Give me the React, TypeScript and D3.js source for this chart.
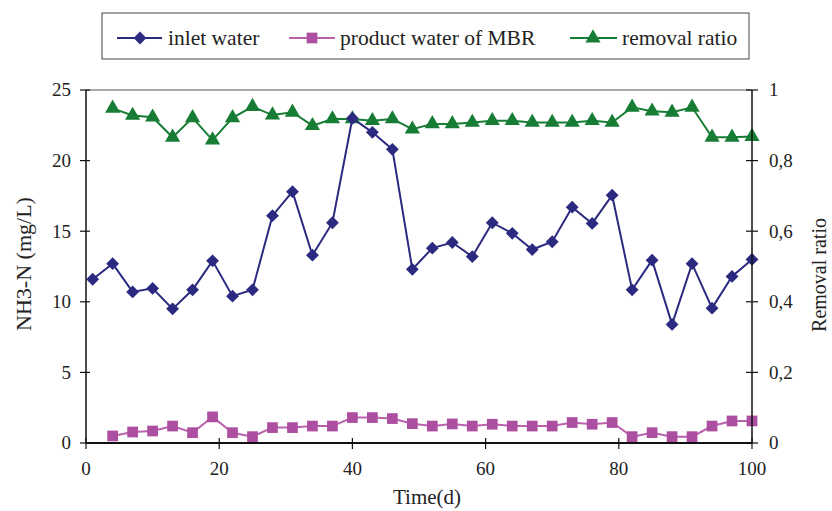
import React from "react";
import * as d3 from "d3";

// sampling days (every 3 days)
const inletDays = [1, 4, 7, 10, 13, 16, 19, 22, 25, 28, 31, 34, 37, 40, 43, 46, 49, 52, 55, 58, 61, 64, 67, 70, 73, 76, 79, 82, 85, 88, 91, 94, 97, 100];
const outDays = inletDays.slice(1);

const inletWater = [11.6, 12.7, 10.7, 10.95, 9.5, 10.85, 12.9, 10.4, 10.85, 16.1, 17.8, 13.3, 15.6, 23.0, 22.0, 20.8, 12.3, 13.8, 14.2, 13.2, 15.6, 14.85, 13.7, 14.25, 16.7, 15.55, 17.55, 10.85, 12.95, 8.4, 12.7, 9.55, 11.8, 13.0];
const productWater = [0.5, 0.78, 0.85, 1.2, 0.73, 1.85, 0.73, 0.45, 1.09, 1.09, 1.2, 1.2, 1.8, 1.8, 1.73, 1.37, 1.2, 1.35, 1.2, 1.33, 1.2, 1.2, 1.2, 1.45, 1.33, 1.45, 0.45, 0.73, 0.45, 0.45, 1.2, 1.56, 1.56];
const removalRatio = [0.948, 0.928, 0.923, 0.866, 0.921, 0.858, 0.921, 0.953, 0.929, 0.937, 0.899, 0.918, 0.918, 0.913, 0.918, 0.889, 0.904, 0.904, 0.908, 0.913, 0.913, 0.908, 0.908, 0.908, 0.913, 0.908, 0.951, 0.94, 0.937, 0.951, 0.866, 0.866, 0.868];

const xTicks = [0, 20, 40, 60, 80, 100];
const yTicks = [0, 5, 10, 15, 20, 25];
const y2Ticks = [0, 0.2, 0.4, 0.6, 0.8, 1];

const C_INLET = "#2b2a80";
const C_PROD = "#ad4fa0";
const C_PROD_LINE = "#bb62ae";
const C_REM = "#177d35";
const FONT = "'Liberation Serif', 'Times New Roman', serif";

const W = 832;
const H = 511;
const L = 86, R = 752, T = 90, B = 443;

export default function App() {
  const x = d3.scaleLinear().domain([0, 100]).range([L, R]);
  const y = d3.scaleLinear().domain([0, 25]).range([B, T]);
  const y2 = d3.scaleLinear().domain([0, 1]).range([B, T]);

  const inletPts = inletDays.map((d, i) => [x(d), y(inletWater[i])] as [number, number]);
  const prodPts = outDays.map((d, i) => [x(d), y(productWater[i])] as [number, number]);
  const remPts = outDays.map((d, i) => [x(d), y2(removalRatio[i])] as [number, number]);
  const line = d3.line();

  const diamond = d3.symbol().type(d3.symbolDiamond2).size(105)();
  const square = d3.symbol().type(d3.symbolSquare).size(115)();
  const triangle = d3.symbol().type(d3.symbolTriangle).size(100)();

  const fmt2 = (v: number) => String(v).replace(".", ",");

  return (
    <svg width={W} height={H} style={{ position: "absolute", left: 0, top: 0, background: "#fff" }} fontFamily={FONT}>
      <rect width={W} height={H} fill="#fff" />
      {/* legend */}
      <rect x={102} y={13} width={647} height={46} fill="#fff" stroke="#444" strokeWidth={1} />
      <g>
        <line x1={117} x2={162} y1={38} y2={38} stroke={C_INLET} strokeWidth={2} />
        <path d={diamond} transform="translate(140,38)" fill={C_INLET} />
        <text x={168} y={45} fontSize={21.5} fill="#222">inlet water</text>
        <line x1={289} x2={335} y1={38} y2={38} stroke={C_PROD_LINE} strokeWidth={2} />
        <path d={square} transform="translate(312,38)" fill={C_PROD} />
        <text x={340} y={45} fontSize={21.5} fill="#222">product water of MBR</text>
        <line x1={570} x2={617} y1={38} y2={38} stroke={C_REM} strokeWidth={2} />
        <path d={triangle} transform="translate(593,38)" fill={C_REM} />
        <text x={622} y={45} fontSize={21.5} fill="#222">removal ratio</text>
      </g>

      {/* top border */}
      <line x1={L} x2={R} y1={T} y2={T} stroke="#555" strokeWidth={1.2} />

      {/* series */}
      <path d={line(remPts) || ""} fill="none" stroke={C_REM} strokeWidth={2} />
      {remPts.map((p, i) => (
        <path key={"r" + i} d={triangle} transform={`translate(${p[0]},${p[1]})`} fill={C_REM} />
      ))}
      <path d={line(prodPts) || ""} fill="none" stroke={C_PROD_LINE} strokeWidth={2} />
      {prodPts.map((p, i) => (
        <path key={"p" + i} d={square} transform={`translate(${p[0]},${p[1]})`} fill={C_PROD} />
      ))}
      <path d={line(inletPts) || ""} fill="none" stroke={C_INLET} strokeWidth={2} />
      {inletPts.map((p, i) => (
        <path key={"i" + i} d={diamond} transform={`translate(${p[0]},${p[1]})`} fill={C_INLET} />
      ))}

      {/* axes */}
      <line x1={L} x2={R} y1={B} y2={B} stroke="#111" strokeWidth={2} />
      <line x1={L} x2={L} y1={T} y2={B} stroke="#111" strokeWidth={1.5} />
      <line x1={R} x2={R} y1={T} y2={B} stroke="#111" strokeWidth={1.5} />
      {xTicks.map((t) => (
        <g key={"x" + t}>
          <line x1={x(t)} x2={x(t)} y1={B - 5} y2={B + 6} stroke="#111" strokeWidth={1.2} />
          <text x={x(t)} y={475} textAnchor="middle" fontSize={19} fill="#222">{t}</text>
        </g>
      ))}
      {yTicks.map((t) => (
        <g key={"y" + t}>
          <line x1={L - 6} x2={L + 4} y1={y(t)} y2={y(t)} stroke="#111" strokeWidth={1.2} />
          <text x={71} y={y(t)} dy="0.34em" textAnchor="end" fontSize={19} fill="#222">{t}</text>
        </g>
      ))}
      {y2Ticks.map((t) => (
        <g key={"y2" + t}>
          <line x1={R - 6} x2={R + 6} y1={y2(t)} y2={y2(t)} stroke="#111" strokeWidth={1.2} />
          <text x={769} y={y2(t)} dy="0.34em" textAnchor="start" fontSize={19} fill="#222">{fmt2(t)}</text>
        </g>
      ))}

      {/* axis titles */}
      <text x={427} y={504} textAnchor="middle" fontSize={21} fill="#222">Time(d)</text>
      <text transform="translate(31,264) rotate(-90)" textAnchor="middle" fontSize={22} fill="#222">NH3-N (mg/L)</text>
      <text transform="translate(826,275) rotate(-90)" textAnchor="middle" fontSize={20} fill="#222">Removal ratio</text>
    </svg>
  );
}
